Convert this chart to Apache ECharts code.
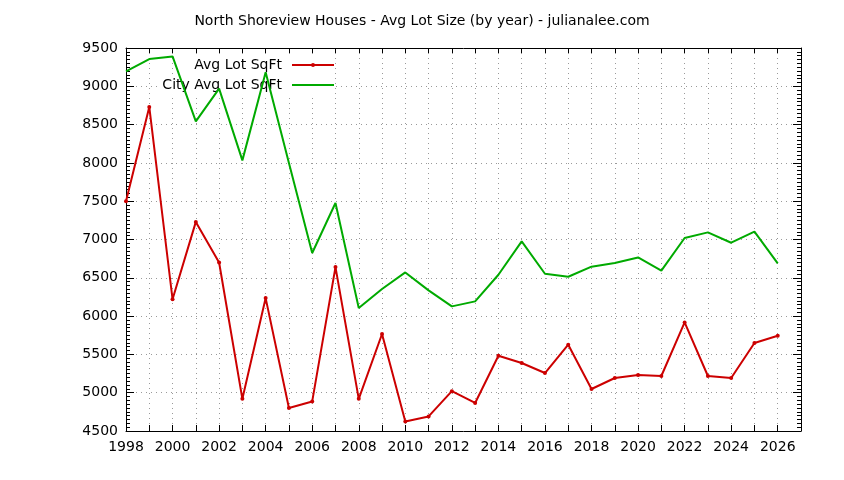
<!DOCTYPE html>
<html lang="en">
<head>
  <meta charset="UTF-8" />
  <title>North Shoreview Houses - Avg Lot Size</title>
  <script src="https://cdn.jsdelivr.net/npm/echarts@6/dist/echarts.min.js"></script>
  <style>
    body { margin: 0; background: #fff; }
    #chart { width: 844px; height: 480px; }
  </style>
</head>
<body>
  <div id="chart"></div>
  <script>
    const years = [1998, 1999, 2000, 2001, 2002, 2003, 2004, 2005, 2006, 2007,
                   2008, 2009, 2010, 2011, 2012, 2013, 2014, 2015, 2016, 2017,
                   2018, 2019, 2020, 2021, 2022, 2023, 2024, 2025, 2026];
    const avgLot = [7500, 8730, 6220, 7230, 6700, 4920, 6235, 4800, 4886, 6640,
                    4920, 5766, 4625, 4690, 5020, 4866, 5483, 5388, 5257, 5627,
                    5048, 5192, 5231, 5218, 5918, 5218, 5192, 5649, 5744];
    const cityAvgLot = [9195, 9356, 9390, 8542, 8969, 8033, 9182, 8000, 6824, 7477,
                        6106, 6354, 6570, 6336, 6127, 6192, 6540, 6975, 6553, 6514,
                        6645, 6693, 6766, 6593, 7020, 7093, 6958, 7102, 6688];

    const font = 'DejaVu Sans';
    const gridLine = { show: true, lineStyle: { color: '#9a9a9a', type: [1, 4], width: 1 } };
    const axisLine = { show: true, onZero: false, lineStyle: { color: '#000', width: 1 } };

    const chart = echarts.init(document.getElementById('chart'));
    chart.setOption({
      animation: false,
      backgroundColor: '#fff',
      title: {
        text: 'North Shoreview Houses - Avg Lot Size (by year) - julianalee.com',
        left: 'center', top: 9,
        textStyle: { fontFamily: font, fontSize: 14, fontWeight: 'normal', color: '#000' }
      },
      legend: [
        {
          data: ['Avg Lot SqFt'], right: 509, top: 56, z: 1,
          backgroundColor: '#fff', padding: [2, 0, 2, 4],
          align: 'right', itemWidth: 42, itemHeight: 5,
          textStyle: { fontFamily: font, fontSize: 14, color: '#000', padding: [0, 5, 0, 0] }
        },
        {
          data: ['City Avg Lot SqFt'], right: 509, top: 76, z: 1,
          backgroundColor: '#fff', padding: [2, 0, 2, 4],
          align: 'right', itemWidth: 42, itemHeight: 5,
          itemStyle: { opacity: 0 },
          textStyle: { fontFamily: font, fontSize: 14, color: '#000', padding: [0, 5, 0, 0] }
        }
      ],
      grid: { left: 126, right: 43, top: 48, bottom: 49 },
      xAxis: [
        {
          type: 'value', position: 'bottom', min: 1998, max: 2027, interval: 1,
          axisLine: axisLine,
          axisTick: { inside: true, length: 6, lineStyle: { color: '#000' } },
          axisLabel: {
            fontFamily: font, fontSize: 14, color: '#000', margin: 9,
            showMaxLabel: false,
            formatter: v => (v % 2 === 0 ? String(v) : '')
          },
          splitLine: gridLine
        },
        {
          type: 'value', position: 'top', min: 1998, max: 2027, interval: 1,
          axisLine: axisLine,
          axisTick: { inside: true, length: 5, lineStyle: { color: '#000' } },
          axisLabel: { show: false },
          splitLine: { show: false }
        }
      ],
      yAxis: [
        {
          type: 'value', position: 'left', min: 4500, max: 9500, interval: 500,
          axisLine: axisLine,
          axisTick: { inside: true, length: 8, lineStyle: { color: '#000' } },
          minorTick: { show: true, splitNumber: 10, length: 4, lineStyle: { color: '#000' } },
          axisLabel: { fontFamily: font, fontSize: 14, color: '#000', margin: 8, formatter: v => String(v) },
          splitLine: gridLine
        },
        {
          type: 'value', position: 'right', min: 4500, max: 9500, interval: 500,
          axisLine: axisLine,
          axisTick: { inside: true, length: 8, lineStyle: { color: '#000' } },
          minorTick: { show: true, splitNumber: 10, length: 4, lineStyle: { color: '#000' } },
          axisLabel: { show: false },
          splitLine: { show: false }
        }
      ],
      series: [
        {
          name: 'Avg Lot SqFt', type: 'line',
          data: years.map((y, i) => [y, avgLot[i]]),
          color: '#cc0000',
          lineStyle: { width: 2 },
          symbol: 'circle', symbolSize: 4, showSymbol: true,
          z: 3
        },
        {
          name: 'City Avg Lot SqFt', type: 'line',
          data: years.map((y, i) => [y, cityAvgLot[i]]),
          color: '#00aa00',
          lineStyle: { width: 2 },
          symbol: 'none', showSymbol: false,
          z: 3
        }
      ]
    });
  </script>
</body>
</html>
